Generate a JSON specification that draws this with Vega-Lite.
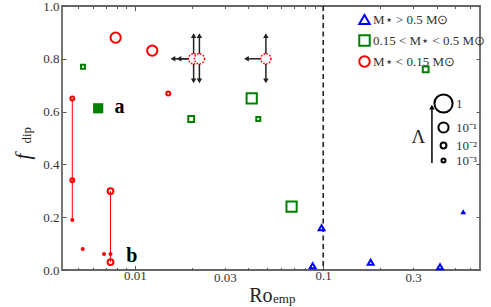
{
  "$schema": "https://vega.github.io/schema/vega-lite/v6.json",
  "width": 418,
  "height": 264,
  "autosize": {"type": "none"},
  "padding": {"left": 62, "top": 6, "right": 11, "bottom": 37},
  "background": "white",
  "config": {
    "view": {"stroke": "#666", "strokeWidth": 1.8},
    "font": "Liberation Serif",
    "axis": {"grid": false, "domain": false, "tickColor": "#555", "tickWidth": 1, "labelFont": "Liberation Serif", "labelFontSize": 13, "labelColor": "#333", "titleFont": "Liberation Serif", "titleColor": "#222", "titleFontWeight": "normal"},
    "legend": {"labelFont": "Liberation Serif", "labelFontSize": 13, "labelColor": "#333", "padding": 0}
  },
  "datasets": {
    "stars": [
      {"ro": 0.0079, "f": 0.88, "grp": "low", "lam": 0.1, "solid": false},
      {"ro": 0.01236, "f": 0.831, "grp": "low", "lam": 0.1, "solid": false},
      {"ro": 0.01503, "f": 0.669, "grp": "low", "lam": 0.001, "solid": false},
      {"ro": 0.00465, "f": 0.65, "grp": "low", "lam": 0.001, "solid": false},
      {"ro": 0.00465, "f": 0.34, "grp": "low", "lam": 0.001, "solid": false},
      {"ro": 0.00742, "f": 0.299, "grp": "low", "lam": 0.01, "solid": false},
      {"ro": 0.00742, "f": 0.03, "grp": "low", "lam": 0.01, "solid": false},
      {"ro": 0.00465, "f": 0.189, "grp": "low", "lam": 0.001, "solid": true},
      {"ro": 0.00528, "f": 0.08, "grp": "low", "lam": 0.001, "solid": true},
      {"ro": 0.00685, "f": 0.061, "grp": "low", "lam": 0.001, "solid": true},
      {"ro": 0.00742, "f": 0.061, "grp": "low", "lam": 0.001, "solid": true},
      {"ro": 0.0053, "f": 0.77, "grp": "mid", "lam": 0.001, "solid": false},
      {"ro": 0.00638, "f": 0.6125, "grp": "mid", "lam": 0.1, "solid": true},
      {"ro": 0.0199, "f": 0.572, "grp": "mid", "lam": 0.01, "solid": false},
      {"ro": 0.0417, "f": 0.65, "grp": "mid", "lam": 0.1, "solid": false},
      {"ro": 0.0452, "f": 0.572, "grp": "mid", "lam": 0.001, "solid": false},
      {"ro": 0.35, "f": 0.76, "grp": "mid", "lam": 0.01, "solid": false},
      {"ro": 0.0679, "f": 0.24, "grp": "mid", "lam": 0.1, "solid": false},
      {"ro": 0.0879, "f": 0.016, "grp": "high", "lam": 0.01, "solid": false},
      {"ro": 0.098, "f": 0.16, "grp": "high", "lam": 0.01, "solid": false},
      {"ro": 0.1786, "f": 0.029, "grp": "high", "lam": 0.01, "solid": false},
      {"ro": 0.417, "f": 0.0125, "grp": "high", "lam": 0.01, "solid": false},
      {"ro": 0.554, "f": 0.221, "grp": "high", "lam": 0.01, "solid": true}
    ],
    "limits": [
      {"ro": 0.0205, "f": 0.8},
      {"ro": 0.022, "f": 0.8},
      {"ro": 0.0496, "f": 0.8}
    ],
    "arrows": [
      {"ro": 0.0205, "ro2": 0.0205, "f": 0.8, "f2": 0.888},
      {"ro": 0.0205, "ro2": 0.0205, "f": 0.8, "f2": 0.716},
      {"ro": 0.0205, "ro2": 0.01592, "f": 0.8, "f2": 0.8},
      {"ro": 0.022, "ro2": 0.022, "f": 0.8, "f2": 0.888},
      {"ro": 0.022, "ro2": 0.022, "f": 0.8, "f2": 0.716},
      {"ro": 0.022, "ro2": 0.01714, "f": 0.8, "f2": 0.8},
      {"ro": 0.0496, "ro2": 0.0496, "f": 0.8, "f2": 0.888},
      {"ro": 0.0496, "ro2": 0.0496, "f": 0.8, "f2": 0.716},
      {"ro": 0.0496, "ro2": 0.0391, "f": 0.8, "f2": 0.8}
    ]
  },
  "layer": [
    {
      "data": {"values": [{"ro": 0.1}]},
      "mark": {"type": "rule", "strokeDash": [5, 3.5], "strokeWidth": 1.6, "color": "#222"},
      "encoding": {
        "x": {"field": "ro", "type": "quantitative", "scale": {"type": "log", "domain": [0.0041, 0.68], "nice": false}, "axis": null}
      }
    },
    {
      "data": {"values": [{"ro": 0.00465, "lo": 0.189, "hi": 0.65}, {"ro": 0.00742, "lo": 0.03, "hi": 0.299}]},
      "mark": {"type": "rule", "color": "red", "strokeWidth": 1},
      "encoding": {
        "x": {"field": "ro", "type": "quantitative", "scale": {"type": "log", "domain": [0.0041, 0.68], "nice": false},
          "axis": {"orient": "top", "values": [0.005, 0.006, 0.007, 0.008, 0.009, 0.01, 0.02, 0.03, 0.04, 0.05, 0.06, 0.07, 0.08, 0.09, 0.1, 0.2, 0.3, 0.4, 0.5, 0.6], "labels": false,
            "tickSize": {"condition": {"test": "datum.value == 0.01 || datum.value == 0.1", "value": -4.5}, "value": -2.5},
            "title": "emp", "titleFontSize": 13, "titleAlign": "left", "titleAnchor": null, "titleX": 210.5, "titleY": 296, "titleBaseline": "alphabetic"}},
        "y": {"field": "lo", "type": "quantitative", "scale": {"domain": [0, 1], "nice": false},
          "axis": {"orient": "right", "values": [0, 0.2, 0.4, 0.6, 0.8, 1], "labels": false, "tickSize": -4,
            "title": "dip", "titleFontSize": 13, "titleAngle": 270, "titleAlign": "left", "titleAnchor": null, "titleBaseline": "alphabetic", "titleX": -450, "titleY": 137}},
        "y2": {"field": "hi"}
      }
    },
    {
      "data": {"name": "arrows"},
      "mark": {"type": "rule", "color": "#222", "strokeWidth": 1.5},
      "encoding": {
        "x": {"field": "ro", "type": "quantitative", "scale": {"type": "log", "domain": [0.0041, 0.68], "nice": false}, "axis": null},
        "x2": {"field": "ro2"},
        "y": {"field": "f", "type": "quantitative", "scale": {"domain": [0, 1], "nice": false}, "axis": null},
        "y2": {"field": "f2"}
      }
    },
    {
      "data": {"name": "arrows"},
      "transform": [{"filter": "datum.f2 > 0.85"}],
      "mark": {"type": "point", "shape": "triangle-up", "filled": true, "color": "#222", "size": 30, "opacity": 1},
      "encoding": {
        "x": {"field": "ro2", "type": "quantitative", "scale": {"type": "log", "domain": [0.0041, 0.68], "nice": false}, "axis": null},
        "y": {"field": "f2", "type": "quantitative", "scale": {"domain": [0, 1], "nice": false}, "axis": null}
      }
    },
    {
      "data": {"name": "arrows"},
      "transform": [{"filter": "datum.f2 < 0.75"}],
      "mark": {"type": "point", "shape": "triangle-down", "filled": true, "color": "#222", "size": 30, "opacity": 1},
      "encoding": {
        "x": {"field": "ro2", "type": "quantitative", "scale": {"type": "log", "domain": [0.0041, 0.68], "nice": false}, "axis": null},
        "y": {"field": "f2", "type": "quantitative", "scale": {"domain": [0, 1], "nice": false}, "axis": null}
      }
    },
    {
      "data": {"name": "arrows"},
      "transform": [{"filter": "datum.ro2 < datum.ro"}],
      "mark": {"type": "point", "shape": "triangle-left", "filled": true, "color": "#222", "size": 30, "opacity": 1},
      "encoding": {
        "x": {"field": "ro2", "type": "quantitative", "scale": {"type": "log", "domain": [0.0041, 0.68], "nice": false}, "axis": null},
        "y": {"field": "f2", "type": "quantitative", "scale": {"domain": [0, 1], "nice": false}, "axis": null}
      }
    },
    {
      "data": {"name": "limits"},
      "mark": {"type": "point", "shape": "circle", "filled": true, "fill": "white", "stroke": "red", "strokeDash": [1.6, 1.4], "strokeWidth": 1.5, "opacity": 1, "size": 104},
      "encoding": {
        "x": {"field": "ro", "type": "quantitative", "scale": {"type": "log", "domain": [0.0041, 0.68], "nice": false}, "axis": null},
        "y": {"field": "f", "type": "quantitative", "scale": {"domain": [0, 1], "nice": false}, "axis": null}
      }
    },
    {
      "data": {"name": "stars"},
      "transform": [{"filter": "!datum.solid"}],
      "mark": {"type": "point", "filled": false, "opacity": 1, "strokeWidth": 2},
      "encoding": {
        "x": {"field": "ro", "type": "quantitative", "scale": {"type": "log", "domain": [0.0041, 0.68], "nice": false},
          "axis": {"orient": "bottom", "values": [0.005, 0.006, 0.007, 0.008, 0.009, 0.01, 0.02, 0.03, 0.04, 0.05, 0.06, 0.07, 0.08, 0.09, 0.1, 0.2, 0.3, 0.4, 0.5, 0.6],
            "labelExpr": "datum.value == 0.01 ? '0.01' : datum.value == 0.03 ? '0.03' : datum.value == 0.1 ? '0.1' : datum.value == 0.3 ? '0.3' : ''",
            "labelOverlap": false, "labelFlush": false, "labelPadding": 4,
            "tickSize": {"condition": {"test": "datum.value == 0.01 || datum.value == 0.1", "value": -4.5}, "value": -2.5},
            "title": "Ro", "titleFontSize": 20, "titleAlign": "right", "titleAnchor": null, "titleX": 210, "titleY": 31, "titleBaseline": "alphabetic"}},
        "y": {"field": "f", "type": "quantitative", "scale": {"domain": [0, 1], "nice": false},
          "axis": {"orient": "left", "values": [0, 0.2, 0.4, 0.6, 0.8, 1], "format": ".1f", "tickSize": -4, "labelPadding": 7,
            "title": "f", "titleFontStyle": "italic", "titleFontSize": 21, "titleAngle": 270, "titleAlign": "center", "titleAnchor": null, "titleBaseline": "alphabetic", "titleX": -33, "titleY": 150}},
        "color": {"field": "grp", "type": "nominal", "scale": {"domain": ["high", "mid", "low"], "range": ["#0000ff", "#008000", "#ff0000"]},
          "legend": {"orient": "none", "legendX": 296, "legendY": 7, "title": null, "symbolSize": 110, "symbolStrokeWidth": 2, "labelOffset": 2, "rowPadding": 2,
            "labelExpr": "datum.value == 'high' ? 'M⋆ > 0.5 M⊙' : datum.value == 'mid' ? '0.15 < M⋆ < 0.5 M⊙' : 'M⋆ < 0.15 M⊙'"}},
        "shape": {"field": "grp", "type": "nominal", "scale": {"domain": ["high", "mid", "low"], "range": ["triangle-up", "square", "circle"]},
          "legend": {"orient": "none", "legendX": 296, "legendY": 7, "title": null, "symbolSize": 110, "symbolStrokeWidth": 2, "labelOffset": 2, "rowPadding": 2,
            "labelExpr": "datum.value == 'high' ? 'M⋆ > 0.5 M⊙' : datum.value == 'mid' ? '0.15 < M⋆ < 0.5 M⊙' : 'M⋆ < 0.15 M⊙'"}},
        "size": {"field": "lam", "type": "quantitative", "scale": {"type": "linear", "domain": [0.001, 0.01, 0.1, 1], "range": [16, 34, 104, 330], "zero": false},
          "legend": {"orient": "none", "legendX": 371, "legendY": 87, "title": null, "values": [1, 0.1, 0.01, 0.001], "symbolType": "circle", "symbolStrokeColor": "black", "symbolFillColor": "transparent", "symbolStrokeWidth": 2, "labelOffset": 2, "rowPadding": 1,
            "labelExpr": "datum.value >= 1 ? '1' : datum.value >= 0.1 ? '10⁻¹' : datum.value >= 0.01 ? '10⁻²' : '10⁻³'"}}
      }
    },
    {
      "data": {"name": "stars"},
      "transform": [{"filter": "datum.solid"}],
      "mark": {"type": "point", "filled": true, "opacity": 1, "strokeWidth": 0.5},
      "encoding": {
        "x": {"field": "ro", "type": "quantitative", "scale": {"type": "log", "domain": [0.0041, 0.68], "nice": false}, "axis": null},
        "y": {"field": "f", "type": "quantitative", "scale": {"domain": [0, 1], "nice": false}, "axis": null},
        "color": {"field": "grp", "type": "nominal", "scale": {"domain": ["high", "mid", "low"], "range": ["#0000ff", "#008000", "#ff0000"]}, "legend": null},
        "shape": {"field": "grp", "type": "nominal", "scale": {"domain": ["high", "mid", "low"], "range": ["triangle-up", "square", "circle"]}, "legend": null},
        "size": {"field": "lam", "type": "quantitative", "scale": {"type": "linear", "domain": [0.001, 0.01, 0.1, 1], "range": [16, 34, 104, 330], "zero": false}, "legend": null}
      }
    },
    {
      "data": {"values": [{"ro": 0.00827, "f": 0.594, "t": "a"}, {"ro": 0.00964, "f": 0.031, "t": "b"}]},
      "mark": {"type": "text", "font": "Liberation Serif", "fontSize": 20, "fontWeight": "bold", "align": "center", "baseline": "alphabetic", "color": "black"},
      "encoding": {
        "x": {"field": "ro", "type": "quantitative", "scale": {"type": "log", "domain": [0.0041, 0.68], "nice": false}, "axis": null},
        "y": {"field": "f", "type": "quantitative", "scale": {"domain": [0, 1], "nice": false}, "axis": null},
        "text": {"field": "t"}
      }
    },
    {
      "data": {"values": [{"ro": 0.3778, "f": 0.405, "f2": 0.615}]},
      "mark": {"type": "rule", "color": "black", "strokeWidth": 1.5},
      "encoding": {
        "x": {"field": "ro", "type": "quantitative", "scale": {"type": "log", "domain": [0.0041, 0.68], "nice": false}, "axis": null},
        "y": {"field": "f", "type": "quantitative", "scale": {"domain": [0, 1], "nice": false}, "axis": null},
        "y2": {"field": "f2"}
      }
    },
    {
      "data": {"values": [{"ro": 0.3778, "f": 0.617}]},
      "mark": {"type": "point", "shape": "triangle-up", "filled": true, "color": "black", "size": 30, "opacity": 1},
      "encoding": {
        "x": {"field": "ro", "type": "quantitative", "scale": {"type": "log", "domain": [0.0041, 0.68], "nice": false}, "axis": null},
        "y": {"field": "f", "type": "quantitative", "scale": {"domain": [0, 1], "nice": false}, "axis": null}
      }
    },
    {
      "data": {"values": [{"ro": 0.32, "f": 0.502, "t": "Λ"}]},
      "mark": {"type": "text", "font": "Liberation Serif", "fontSize": 19, "align": "center", "baseline": "middle", "color": "#222"},
      "encoding": {
        "x": {"field": "ro", "type": "quantitative", "scale": {"type": "log", "domain": [0.0041, 0.68], "nice": false}, "axis": null},
        "y": {"field": "f", "type": "quantitative", "scale": {"domain": [0, 1], "nice": false}, "axis": null},
        "text": {"field": "t"}
      }
    }
  ],
  "resolve": {"scale": {"color": "independent", "shape": "independent", "size": "independent"}, "axis": {"x": "independent", "y": "independent"}}
}
